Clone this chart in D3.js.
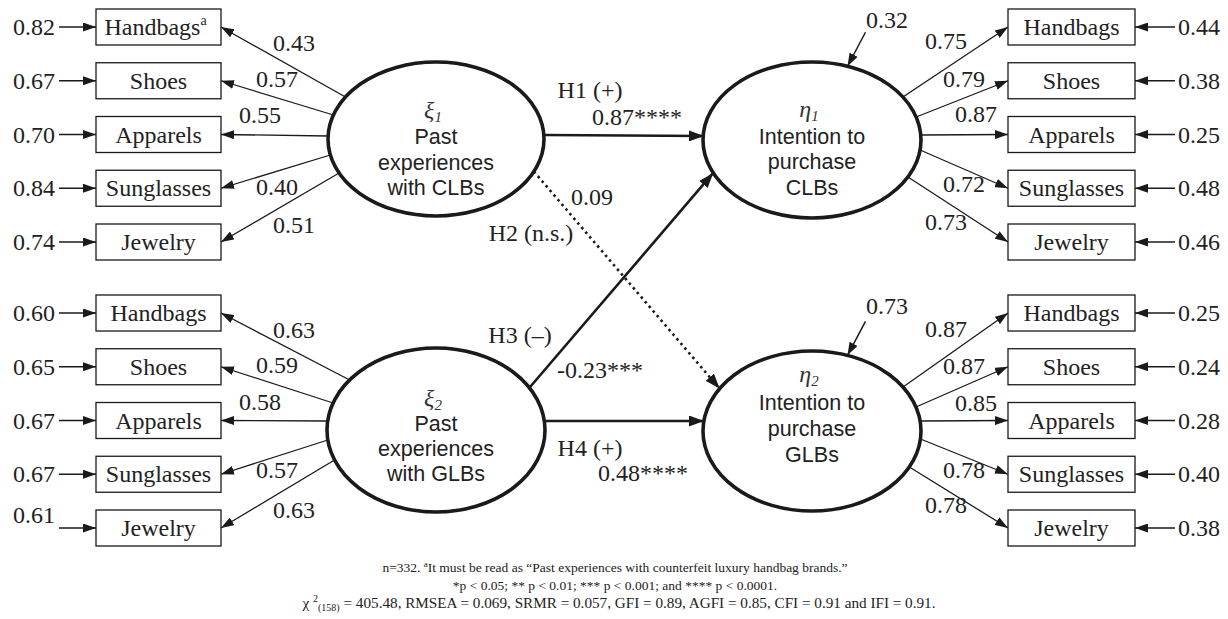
<!DOCTYPE html>
<html><head><meta charset="utf-8">
<script src="https://cdn.jsdelivr.net/npm/d3@7"></script>
<style>
html,body{margin:0;padding:0;background:#fff;}
svg{display:block;}
</style></head>
<body>
<svg id="c" width="1228" height="619"></svg>
<script>
// ---------- data ----------
const indicators = ["Handbags", "Shoes", "Apparels", "Sunglasses", "Jewelry"];
const pastCLBLoadings = [0.43, 0.57, 0.55, 0.40, 0.51];
const pastCLBErrors   = [0.82, 0.67, 0.70, 0.84, 0.74];
const pastGLBLoadings = [0.63, 0.59, 0.58, 0.57, 0.63];
const pastGLBErrors   = [0.60, 0.65, 0.67, 0.67, 0.61];
const intCLBLoadings  = [0.75, 0.79, 0.87, 0.72, 0.73];
const intCLBErrors    = [0.44, 0.38, 0.25, 0.48, 0.46];
const intGLBLoadings  = [0.87, 0.87, 0.85, 0.78, 0.78];
const intGLBErrors    = [0.25, 0.24, 0.28, 0.40, 0.38];
const disturbances    = [0.32, 0.73];
const hypotheses      = ["H1 (+)", "H2 (n.s.)", "H3 (\u2013)", "H4 (+)"];
const pathCoefs       = ["0.87****", "0.09", "-0.23***", "0.48****"];
const footLine2 = "*p < 0.05; ** p < 0.01; *** p < 0.001; and **** p < 0.0001.";
const footLine3 = " = 405.48, RMSEA = 0.069, SRMR = 0.057, GFI = 0.89, AGFI = 0.85, CFI = 0.91 and IFI = 0.91.";

// ---------- layout ----------
const svg = d3.select("#c");
const SERIF = "'Liberation Serif','Times New Roman',serif";
const SANS = "'Liberation Sans',Arial,sans-serif";
const fmt = d3.format(".2f");
const FS = 24, BL = 8;

const defs = svg.append("defs");
function marker(id, len, half) {
  defs.append("marker").attr("id", id).attr("markerUnits", "userSpaceOnUse")
    .attr("markerWidth", len).attr("markerHeight", half * 2)
    .attr("refX", len).attr("refY", half).attr("orient", "auto")
    .append("path").attr("d", `M0,0L${len},${half}L0,${half * 2}Z`).attr("fill", "#1a1a1a");
}
marker("thin", 13, 4.5);
marker("thick", 15, 5.5);

const rowTop = d3.scalePoint().domain(indicators).range([27, 242]);
const rowBot = d3.scalePoint().domain(indicators).range([313, 528]);

const boxL = {x0: 96, x1: 221}, boxR = {x0: 1008, x1: 1135};
const boxH = 36;

const nodes = {
  xi1:  {cx: 436, cy: 139, rx: 108, ry: 77},
  xi2:  {cx: 436, cy: 430, rx: 109, ry: 82},
  eta1: {cx: 812, cy: 140, rx: 109, ry: 78},
  eta2: {cx: 812, cy: 431, rx: 109, ry: 80}
};
function edgeAtDy(n, dy, side) {
  const k = Math.sqrt(Math.max(0, 1 - (dy / n.ry) ** 2));
  return [n.cx + side * n.rx * k, n.cy + dy];
}
function edgeAtAngle(n, deg) {
  const t = deg * Math.PI / 180;
  return [n.cx + n.rx * Math.cos(t), n.cy + n.ry * Math.sin(t)];
}

const groups = [
  {node: nodes.xi1, row: rowTop, side: -1, load: pastCLBLoadings, err: pastCLBErrors,
   dys: [-42, -24, -3, 16, 34], lx: [294, 277, 260, 277, 294], ly: [16, -2, -20, -1, -17], ey: [0, 0, 0, 0, 0], sup: true},
  {node: nodes.xi2, row: rowBot, side: -1, load: pastGLBLoadings, err: pastGLBErrors,
   dys: [-50, -27, -9, 10, 30], lx: [294, 277, 260, 277, 294], ly: [17, -2, -19, -4, -18], ey: [0, 0, 0, 0, -13]},
  {node: nodes.eta1, row: rowTop, side: 1, load: intCLBLoadings, err: intCLBErrors,
   dys: [-43, -23, -5, 10, 37], lx: [946, 964, 976, 964, 946], ly: [14, -2, -21, -4, -20], ey: [0, 0, 0, 0, 0]},
  {node: nodes.eta2, row: rowBot, side: 1, load: intGLBLoadings, err: intGLBErrors,
   dys: [-44, -24, -10, 8, 36], lx: [946, 964, 976, 964, 946], ly: [16, -1, -18, -4, -23], ey: [0, 0, 0, 0, 0]}
];

groups.forEach(g => {
  const left = g.side < 0;
  const bx = left ? boxL : boxR;
  const G = svg.append("g");
  indicators.forEach((name, i) => {
    const y = g.row(name);
    G.append("rect").attr("x", bx.x0).attr("y", y - boxH / 2).attr("width", bx.x1 - bx.x0).attr("height", boxH)
      .attr("fill", "#fff").attr("stroke", "#1a1a1a").attr("stroke-width", 1.3);
    const t = G.append("text").attr("x", (bx.x0 + bx.x1) / 2 + (g.sup && i === 0 ? -3 : 0)).attr("y", y + BL)
      .attr("text-anchor", "middle").attr("font-family", SERIF).attr("font-size", FS).attr("fill", "#222").text(name);
    if (g.sup && i === 0) t.append("tspan").attr("font-size", 14).attr("dy", -10).text("a");
    const s = edgeAtDy(g.node, g.dys[i], g.side);
    const ex = left ? bx.x1 : bx.x0;
    G.append("line").attr("x1", s[0]).attr("y1", s[1]).attr("x2", ex).attr("y2", y)
      .attr("stroke", "#1a1a1a").attr("stroke-width", 1.3).attr("marker-end", "url(#thin)");
    G.append("text").attr("x", g.lx[i]).attr("y", y + g.ly[i] + BL).attr("text-anchor", "middle")
      .attr("font-family", SERIF).attr("font-size", FS).attr("fill", "#222").text(fmt(g.load[i]));
    const ax0 = left ? 59 : 1175, ax1 = left ? bx.x0 : bx.x1;
    G.append("line").attr("x1", ax0).attr("y1", y).attr("x2", ax1).attr("y2", y)
      .attr("stroke", "#1a1a1a").attr("stroke-width", 1.3).attr("marker-end", "url(#thin)");
    G.append("text").attr("x", left ? 55 : 1178).attr("y", y + g.ey[i] + BL)
      .attr("text-anchor", left ? "end" : "start")
      .attr("font-family", SERIF).attr("font-size", FS).attr("fill", "#222").text(fmt(g.err[i]));
  });
});

// structural paths
const structural = [
  {from: edgeAtAngle(nodes.xi1, 0), to: edgeAtAngle(nodes.eta1, 180), dy1: -4, dy2: -4, dash: false},
  {from: edgeAtAngle(nodes.xi1, 25), to: edgeAtAngle(nodes.eta2, -148), dash: true},
  {from: edgeAtAngle(nodes.xi2, -31), to: edgeAtAngle(nodes.eta1, 155), dash: false},
  {from: edgeAtAngle(nodes.xi2, 0), to: edgeAtAngle(nodes.eta2, 180), dy1: -9, dy2: -10, dash: false}
];
structural.forEach(p => {
  let [x1, y1] = p.from, [x2, y2] = p.to;
  if (p.dy1 !== undefined) { y1 += p.dy1; y2 += p.dy2; x1 += 1; x2 += 1; }
  svg.append("line").attr("x1", x1).attr("y1", y1).attr("x2", x2).attr("y2", y2)
    .attr("stroke", "#1a1a1a").attr("stroke-width", 2.6)
    .attr("stroke-dasharray", p.dash ? "2.5,3.6" : null)
    .attr("marker-end", "url(#thick)");
});

// hypothesis labels
const hypPos = [[590, 90], [531, 233], [520, 335], [590, 448]];
const coefPos = [[637, 117], [592, 197], [600, 370], [643, 473]];
hypotheses.forEach((h, i) => {
  svg.append("text").attr("x", hypPos[i][0]).attr("y", hypPos[i][1] + BL).attr("text-anchor", "middle")
    .attr("font-family", SERIF).attr("font-size", FS).attr("fill", "#222").text(h);
  svg.append("text").attr("x", coefPos[i][0]).attr("y", coefPos[i][1] + BL).attr("text-anchor", "middle")
    .attr("font-family", SERIF).attr("font-size", FS).attr("fill", "#222").text(pathCoefs[i]);
});

// disturbances
const distNodes = [nodes.eta1, nodes.eta2];
const distText = [[866, 20], [866, 306]];
distNodes.forEach((n, i) => {
  const tip = edgeAtAngle(n, -71);
  svg.append("line").attr("x1", tip[0] + 18).attr("y1", tip[1] - 34).attr("x2", tip[0]).attr("y2", tip[1])
    .attr("stroke", "#1a1a1a").attr("stroke-width", 1.5).attr("marker-end", "url(#thin)");
  svg.append("text").attr("x", distText[i][0]).attr("y", distText[i][1] + BL)
    .attr("font-family", SERIF).attr("font-size", FS).attr("fill", "#222").text(fmt(disturbances[i]));
});

// ellipses
const latent = [
  {n: nodes.xi1, sym: "\u03BE", sub: "1", lines: ["Past", "experiences", "with CLBs"], y0: 112, ys: [136, 162, 187]},
  {n: nodes.xi2, sym: "\u03BE", sub: "2", lines: ["Past", "experiences", "with GLBs"], y0: 400, ys: [423, 448, 473]},
  {n: nodes.eta1, sym: "\u03B7", sub: "1", lines: ["Intention to", "purchase", "CLBs"], y0: 111, ys: [136, 161, 187]},
  {n: nodes.eta2, sym: "\u03B7", sub: "2", lines: ["Intention to", "purchase", "GLBs"], y0: 376, ys: [402, 428, 454]}
];
latent.forEach(l => {
  svg.append("ellipse").attr("cx", l.n.cx).attr("cy", l.n.cy).attr("rx", l.n.rx).attr("ry", l.n.ry)
    .attr("fill", "#fff").attr("stroke", "#1a1a1a").attr("stroke-width", 3.6);
  const g = svg.append("text").attr("x", l.n.cx - 3).attr("y", l.y0 + 6).attr("text-anchor", "middle")
    .attr("font-family", SERIF).attr("font-style", "italic").attr("font-size", 24).attr("fill", "#333");
  g.append("tspan").text(l.sym);
  g.append("tspan").attr("font-size", 15).attr("dy", 4).text(l.sub);
  l.lines.forEach((s, j) => {
    svg.append("text").attr("x", l.n.cx).attr("y", l.ys[j] + 7.5).attr("text-anchor", "middle")
      .attr("font-family", SANS).attr("font-size", 21.5).attr("fill", "#222").text(s);
  });
});

// footnotes
const fs = 13.5, fs3 = 15.2;
const f1 = svg.append("text").attr("x", 615).attr("y", 572).attr("text-anchor", "middle")
  .attr("font-family", SERIF).attr("font-size", fs).attr("fill", "#222");
f1.append("tspan").text("n=332. ");
f1.append("tspan").attr("font-size", 9).attr("dy", -5).text("a");
f1.append("tspan").attr("dy", 5).text("It must be read as \u201CPast experiences with counterfeit luxury handbag brands.\u201D");
svg.append("text").attr("x", 615).attr("y", 590).attr("text-anchor", "middle")
  .attr("font-family", SERIF).attr("font-size", fs).attr("fill", "#222").text(footLine2);
const f3 = svg.append("text").attr("x", 619).attr("y", 608).attr("text-anchor", "middle")
  .attr("font-family", SERIF).attr("font-size", fs3).attr("fill", "#222");
f3.append("tspan").text("\u03C7 ");
f3.append("tspan").attr("font-size", 10).attr("dy", -6).text("2");
f3.append("tspan").attr("font-size", 10).attr("dy", 9).text("(158)");
f3.append("tspan").attr("dy", -3).text(footLine3);
</script>
</body></html>
